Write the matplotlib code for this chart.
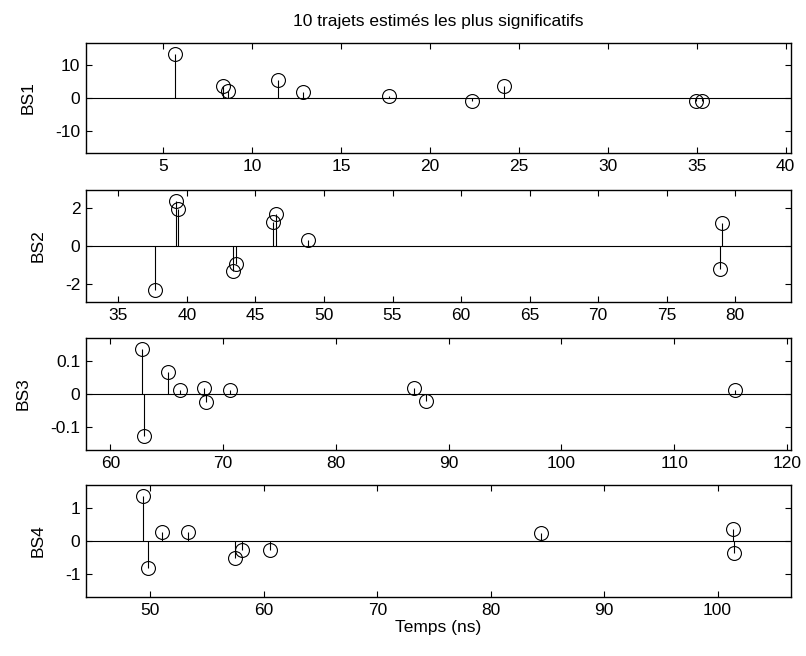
import numpy as np
import matplotlib
matplotlib.use("Agg")
import matplotlib.pyplot as plt

plt.rcParams['font.family'] = ['Liberation Sans', 'DejaVu Sans']

title = "10 trajets estimés les plus significatifs"
xlabel = "Temps (ns)"
labels = ["BS1", "BS2", "BS3", "BS4"]

bs1_t = [5.66, 8.34, 8.62, 11.45, 12.85, 17.7, 22.37, 24.18, 34.97, 35.3]
bs1_a = [13.45, 3.6, 2.2, 5.6, 1.7, 0.7, -0.8, 3.7, -0.8, -0.8]

bs2_t = [37.64, 39.2, 39.33, 43.4, 43.6, 46.27, 46.47, 48.8, 79.07, 78.92]
bs2_a = [-2.31, 2.34, 1.91, -1.28, -0.94, 1.25, 1.67, 0.31, 1.18, -1.18]

bs3_t = [62.85, 63.0, 65.16, 66.18, 68.3, 68.47, 70.6, 86.97, 88.0, 115.35]
bs3_a = [0.137, -0.128, 0.066, 0.011, 0.018, -0.023, 0.011, 0.018, -0.022, 0.011]

bs4_t = [49.32, 49.76, 51.05, 53.35, 57.44, 58.05, 60.57, 84.4, 101.38, 101.48]
bs4_a = [1.375, -0.82, 0.28, 0.28, -0.52, -0.27, -0.27, 0.24, 0.38, -0.36]

xticks = [np.arange(5, 41, 5), np.arange(35, 81, 5), np.arange(60, 121, 10), np.arange(50, 101, 10)]
yticks = [[-10, 0, 10], [-2, 0, 2], [-0.1, 0, 0.1], [-1, 0, 1]]
yticklabels = [["-10", "0", "10"], ["-2", "0", "2"], ["-0.1", "0", "0.1"], ["-1", "0", "1"]]

series = [(bs1_t, bs1_a), (bs2_t, bs2_a), (bs3_t, bs3_a), (bs4_t, bs4_a)]

W, H = 806, 656
fig = plt.figure(figsize=(W / 100, H / 100), dpi=100)

boxes = [(43, 153), (190, 302), (338, 450), (485, 597)]
left, right = 86, 791
fs = 12.5

for i, ((t, a), (top, bot)) in enumerate(zip(series, boxes)):
    ax = fig.add_axes([left / W, 1 - bot / H, (right - left) / W, (bot - top) / H])
    t = np.asarray(t)
    a = np.asarray(a)
    ax.vlines(t, 0, a, color='k', lw=0.8)
    ax.plot(t, a, 'o', ms=10, mfc='none', mec='k', mew=0.8)
    ax.axhline(0, color='k', lw=0.8)
    ax.set_xlim(t.min() - 5, t.max() + 5)
    m = np.abs(a).max() * 1.25
    ax.set_ylim(-m, m)
    ax.set_xticks(xticks[i])
    ax.set_yticks(yticks[i])
    ax.set_yticklabels(yticklabels[i])
    ax.tick_params(direction='in', top=True, right=True, length=4, width=0.8,
                   labelsize=fs, pad=4)
    for s in ax.spines.values():
        s.set_linewidth(1.0)
    ax.set_ylabel(labels[i], fontsize=fs, labelpad=14)
    if i == 0:
        ax.set_title(title, fontsize=fs, pad=12)
    if i == 3:
        ax.set_xlabel(xlabel, fontsize=fs, labelpad=2)

fig.savefig("out.png", dpi=100)
